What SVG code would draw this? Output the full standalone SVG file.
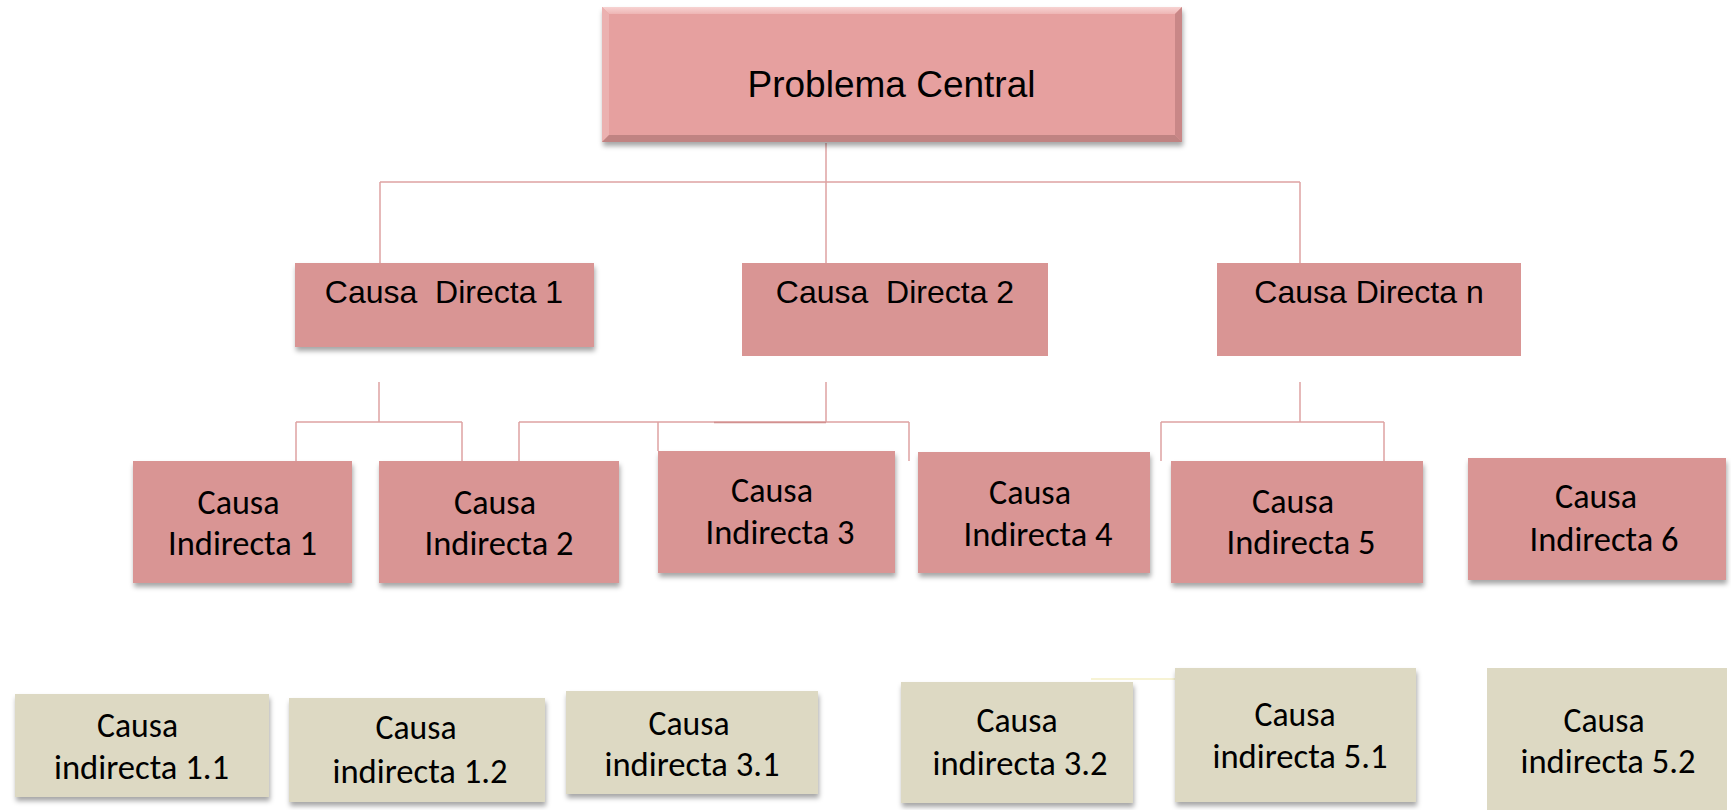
<svg xmlns="http://www.w3.org/2000/svg" width="1731" height="810" viewBox="0 0 1731 810">
<defs>
<filter id="sh" x="-5%" y="-10%" width="112%" height="130%">
<feDropShadow dx="1" dy="4" stdDeviation="2.5" flood-color="#000" flood-opacity="0.35"/>
</filter>
<linearGradient id="topbev" x1="0" y1="0" x2="0" y2="1">
<stop offset="0" stop-color="#f7d3d2"/><stop offset="1" stop-color="#eeb5b4"/>
</linearGradient>
</defs>
<style>
.conn{fill:none;stroke:#dea3a2;stroke-width:1.5}
.pink{fill:#d99594}
.beige{fill:#ddd9c3}
.t1{font-family:"Liberation Sans",Arial,sans-serif;fill:#000;text-anchor:middle;white-space:pre}
.t2{font-family:Carlito,Calibri,Lato,"Liberation Sans",sans-serif;font-size:34px;fill:#000;text-anchor:middle}
</style>
<rect width="1731" height="810" fill="#fff"/>
<g id="connectors">
<path class="conn" d="M826,143 V263 M380,182 H1300 M380,182 V263 M1300,182 V263"/>
<path class="conn" d="M379,382 V422 M296,422 H462 M296,422 V461 M462,422 V461"/>
<path class="conn" d="M826,382 V422 M519,422 H909 M519,422 V461 M658,422 V451 M909,422 V461"/>
<path d="M714,422.5 H826" fill="none" stroke="#d29190" stroke-width="1.5"/>
<path class="conn" d="M1300,382 V422 M1161,422 H1384 M1161,422 V461 M1384,422 V461"/>
<path d="M1091,679 H1302" fill="none" stroke="#f4efc6" stroke-width="1.5"/>
</g>
<g id="problema-central">
<g filter="url(#sh)">
<rect x="602" y="7" width="580" height="135" fill="#e6a09f"/>
</g>
<polygon points="602,7 1182,7 1175,14 609,14" fill="url(#topbev)"/>
<polygon points="602,7 609,14 609,135 602,142" fill="#ebb1b0"/>
<polygon points="1182,7 1182,142 1175,135 1175,14" fill="#c98787"/>
<polygon points="602,142 609,135 1175,135 1182,142" fill="#c08382"/>
<text class="t1" x="891.5" y="97" font-size="37">Problema Central</text>
</g>
<g id="causa-directa-1">
<rect class="pink" x="295" y="263" width="299" height="84" filter="url(#sh)"/>
<text class="t1" x="444" y="303" font-size="32">Causa  Directa 1</text>
</g>
<g id="causa-directa-2">
<rect class="pink" x="742" y="263" width="306" height="93"/>
<text class="t1" x="895" y="303" font-size="32">Causa  Directa 2</text>
</g>
<g id="causa-directa-n">
<rect class="pink" x="1217" y="263" width="304" height="93"/>
<text class="t1" x="1369" y="303" font-size="32">Causa Directa n</text>
</g>
<g id="causa-indirecta-1">
<rect class="pink" x="133" y="461" width="219" height="122" filter="url(#sh)"/>
<text class="t2" x="238.5" y="514" textLength="82" lengthAdjust="spacingAndGlyphs">Causa</text>
<text class="t2" x="242.5" y="555" textLength="149" lengthAdjust="spacingAndGlyphs">Indirecta 1</text>
</g>
<g id="causa-indirecta-2">
<rect class="pink" x="379" y="461" width="240" height="122" filter="url(#sh)"/>
<text class="t2" x="495" y="514" textLength="82" lengthAdjust="spacingAndGlyphs">Causa</text>
<text class="t2" x="499" y="555" textLength="149" lengthAdjust="spacingAndGlyphs">Indirecta 2</text>
</g>
<g id="causa-indirecta-3">
<rect class="pink" x="658" y="451" width="237" height="122" filter="url(#sh)"/>
<text class="t2" x="772" y="502" textLength="82" lengthAdjust="spacingAndGlyphs">Causa</text>
<text class="t2" x="780" y="544" textLength="149" lengthAdjust="spacingAndGlyphs">Indirecta 3</text>
</g>
<g id="causa-indirecta-4">
<rect class="pink" x="918" y="452" width="232" height="121" filter="url(#sh)"/>
<text class="t2" x="1030" y="504" textLength="82" lengthAdjust="spacingAndGlyphs">Causa</text>
<text class="t2" x="1038" y="546" textLength="149" lengthAdjust="spacingAndGlyphs">Indirecta 4</text>
</g>
<g id="causa-indirecta-5">
<rect class="pink" x="1171" y="461" width="252" height="122" filter="url(#sh)"/>
<text class="t2" x="1293" y="513" textLength="82" lengthAdjust="spacingAndGlyphs">Causa</text>
<text class="t2" x="1301" y="554" textLength="149" lengthAdjust="spacingAndGlyphs">Indirecta 5</text>
</g>
<g id="causa-indirecta-6">
<rect class="pink" x="1468" y="458" width="258" height="122" filter="url(#sh)"/>
<text class="t2" x="1596" y="508" textLength="82" lengthAdjust="spacingAndGlyphs">Causa</text>
<text class="t2" x="1604" y="551" textLength="149" lengthAdjust="spacingAndGlyphs">Indirecta 6</text>
</g>
<g id="causa-indirecta-1-1">
<rect class="beige" x="15" y="694" width="254" height="103" filter="url(#sh)"/>
<text class="t2" x="137.5" y="737" textLength="81" lengthAdjust="spacingAndGlyphs">Causa</text>
<text class="t2" x="141.5" y="779" textLength="175" lengthAdjust="spacingAndGlyphs">indirecta 1.1</text>
</g>
<g id="causa-indirecta-1-2">
<rect class="beige" x="289" y="698" width="256" height="104" filter="url(#sh)"/>
<text class="t2" x="416" y="739" textLength="81" lengthAdjust="spacingAndGlyphs">Causa</text>
<text class="t2" x="420" y="783" textLength="175" lengthAdjust="spacingAndGlyphs">indirecta 1.2</text>
</g>
<g id="causa-indirecta-3-1">
<rect class="beige" x="566" y="691" width="252" height="103" filter="url(#sh)"/>
<text class="t2" x="689" y="735" textLength="81" lengthAdjust="spacingAndGlyphs">Causa</text>
<text class="t2" x="692" y="776" textLength="175" lengthAdjust="spacingAndGlyphs">indirecta 3.1</text>
</g>
<g id="causa-indirecta-3-2">
<rect class="beige" x="901" y="682" width="232" height="121" filter="url(#sh)"/>
<text class="t2" x="1017" y="732" textLength="81" lengthAdjust="spacingAndGlyphs">Causa</text>
<text class="t2" x="1020" y="775" textLength="175" lengthAdjust="spacingAndGlyphs">indirecta 3.2</text>
</g>
<g id="causa-indirecta-5-1">
<rect class="beige" x="1175" y="668" width="241" height="134" filter="url(#sh)"/>
<text class="t2" x="1295" y="726" textLength="81" lengthAdjust="spacingAndGlyphs">Causa</text>
<text class="t2" x="1300" y="768" textLength="175" lengthAdjust="spacingAndGlyphs">indirecta 5.1</text>
</g>
<g id="causa-indirecta-5-2">
<rect class="beige" x="1487" y="668" width="240" height="150"/>
<text class="t2" x="1604" y="732" textLength="81" lengthAdjust="spacingAndGlyphs">Causa</text>
<text class="t2" x="1608" y="773" textLength="175" lengthAdjust="spacingAndGlyphs">indirecta 5.2</text>
</g>
</svg>
